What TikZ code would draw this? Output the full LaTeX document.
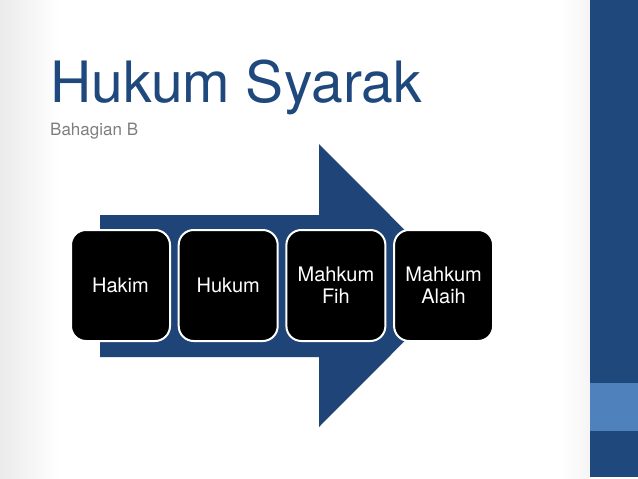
\documentclass[tikz,border=0pt]{standalone}
\usepackage{fontspec}
\setmainfont{TeX Gyre Heros}
\usetikzlibrary{positioning}
\definecolor{titleblue}{HTML}{1F497D}
\definecolor{arrowblue}{HTML}{1F4478}
\definecolor{lightblue}{HTML}{4F81BD}
\definecolor{subgray}{HTML}{7F7F7F}

\begin{document}
\begin{tikzpicture}[x=1pt,y=-1pt]
\tikzstyle{step box} = [draw=white,line width=2pt,fill=black,text=white,shape=rectangle,rounded corners=15pt,minimum width=99pt,minimum height=111pt,align=center,font=\fontsize{20}{22}\selectfont,inner sep=0pt]
\useasboundingbox (0,0) rectangle (638,479);
\fill[white] (0,0) rectangle (638,479);
% faint shading at the page edges
\shade[left color=black!8,right color=white] (0,0) rectangle (60,479);
\shade[left color=white,right color=black!4] (560,0) rectangle (590,479);
% side bar
\fill[titleblue] (590,0) rectangle (638,477);
\fill[lightblue] (590,383) rectangle (638,431);
% titles
\node[anchor=base west,inner sep=0pt,text=titleblue,font=\fontsize{57}{60}\selectfont] (title) at (50,102) {Hukum Syarak};
\node[anchor=base west,inner sep=0pt,text=subgray,font=\fontsize{17}{20}\selectfont] (subtitle) at (50,135) {Bahagian B};
% big arrow
\coordinate (tail top) at (100,215);
\coordinate (tail bot) at (100,357);
\coordinate (tip) at (460,285.5);
\fill[arrowblue] (tail top) -- (319,215) -- (319,144) -- (tip) -- (319,427) -- (319,357) -- (tail bot) -- cycle;
% steps
\node[step box] (hakim) at (120.5,285.5) {Hakim};
\node[step box,right=6.7pt of hakim] (hukum) {Hukum};
\node[step box,right=6.7pt of hukum] (fih) {Mahkum\\Fih};
\node[step box,right=6.7pt of fih] (alaih) {Mahkum\\Alaih};
\end{tikzpicture}
\end{document}
